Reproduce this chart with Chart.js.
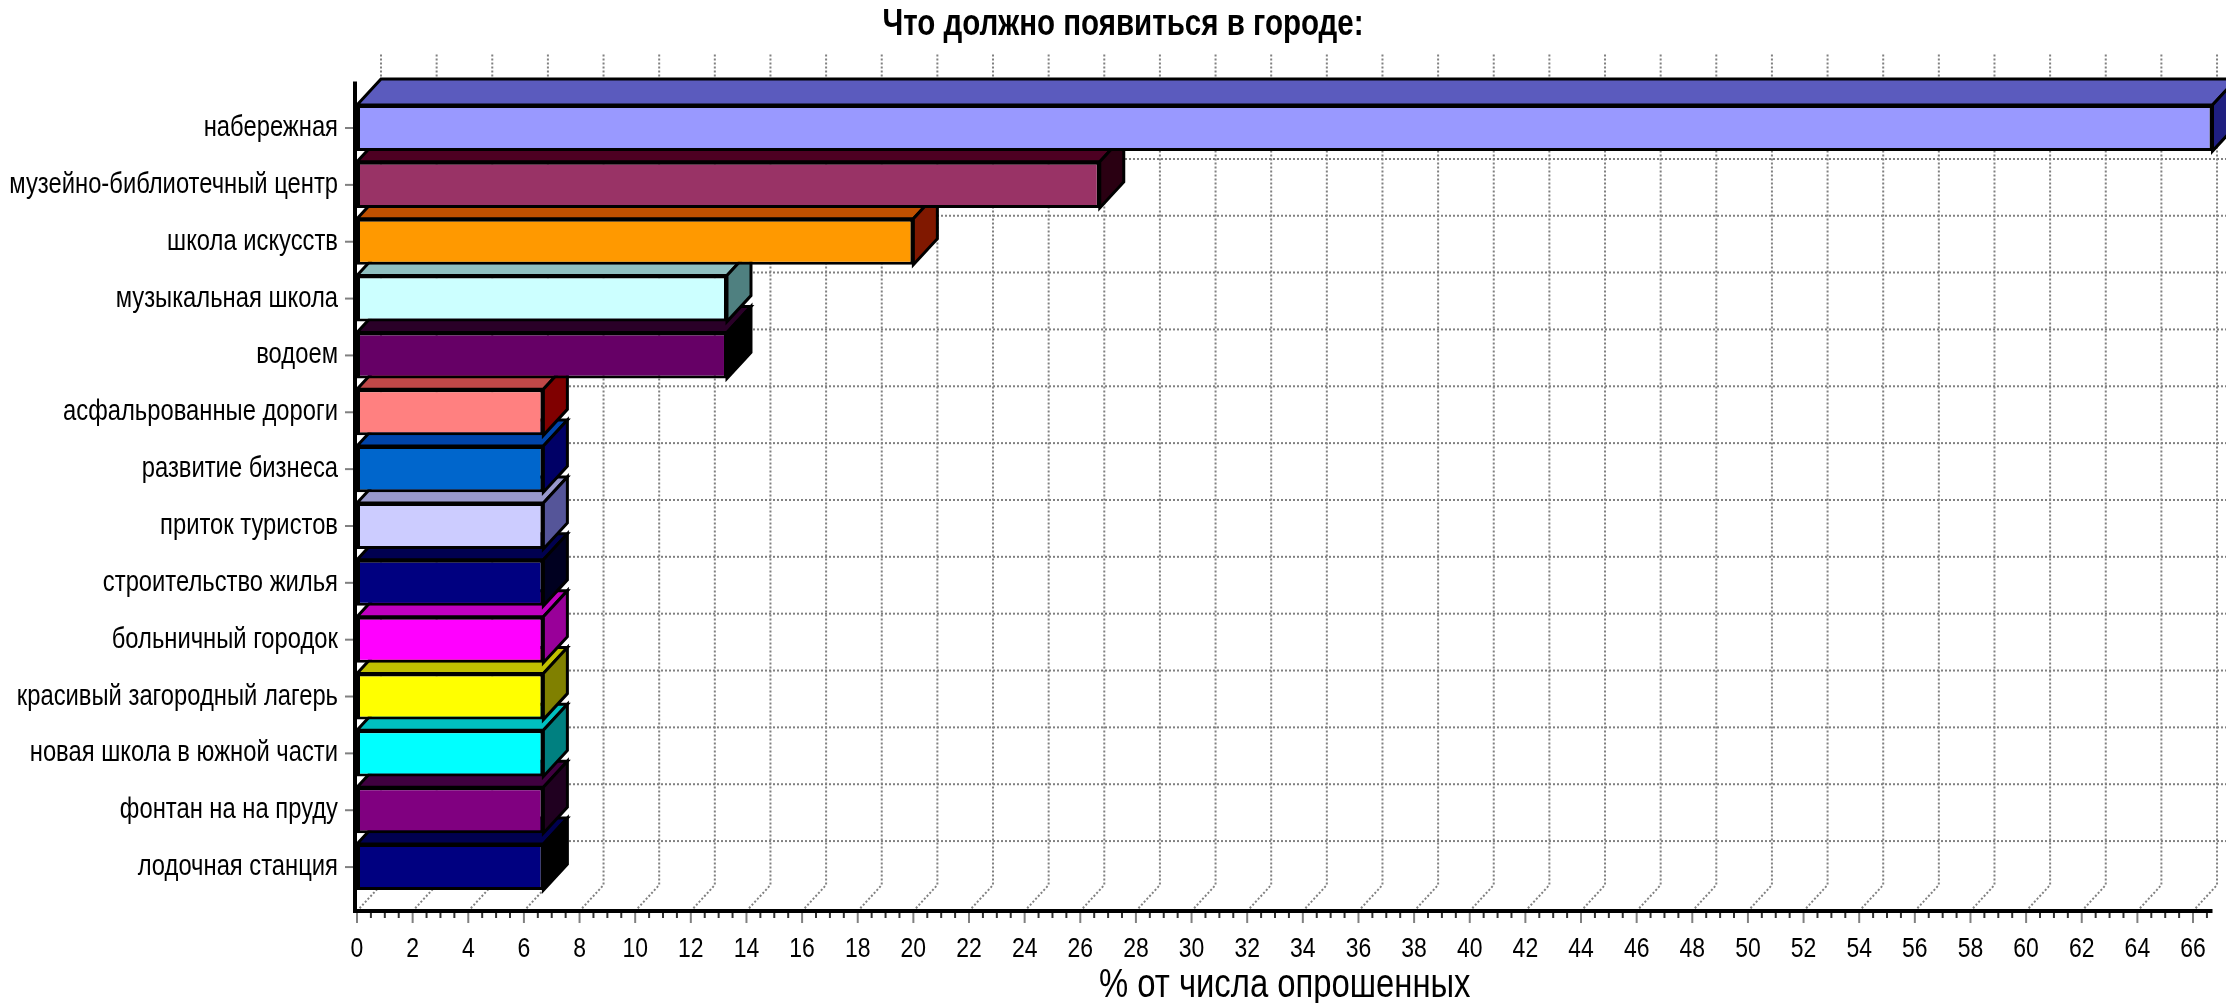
<!DOCTYPE html>
<html lang="ru">
<head>
<meta charset="utf-8">
<title>Что должно появиться в городе</title>
<script src="https://cdn.jsdelivr.net/npm/chart.js@4.4.1/dist/chart.umd.min.js"></script>
<style>
  html, body { margin: 0; padding: 0; background: #fff; }
  #wrap { width: 2226px; height: 1003px; position: relative; }
</style>
</head>
<body>
<div id="wrap"><canvas id="chart"></canvas></div>
<script>
const chartTitle = 'Что должно появиться в городе:';
const axisTitle = '% от числа опрошенных';
const categories = [
  'набережная',
  'музейно-библиотечный центр',
  'школа искусств',
  'музыкальная школа',
  'водоем',
  'асфальрованные дороги',
  'развитие бизнеса',
  'приток туристов',
  'строительство жилья',
  'больничный городок',
  'красивый загородный лагерь',
  'новая школа в южной части',
  'фонтан на на пруду',
  'лодочная станция'
];
const values = [66.7, 26.7, 20, 13.3, 13.3, 6.7, 6.7, 6.7, 6.7, 6.7, 6.7, 6.7, 6.7, 6.7];
const xMax = 66.7;
const xStep = 2;

// front / top / side colours of each bar
const frontColors = ['#9999FF', '#993366', '#FF9900', '#CCFFFF', '#660066', '#FF8080', '#0066CC',
  '#CCCCFF', '#000080', '#FF00FF', '#FFFF00', '#00FFFF', '#800080', '#000080'];
const topColors = ['#5B5BBE', '#4D0022', '#C05000', '#8FC0C0', '#2A0028', '#C04848', '#0044AA',
  '#9999CC', '#000050', '#C000C0', '#C0C000', '#00C0C0', '#400040', '#000050'];
const sideColors = ['#1F1F80', '#2A0012', '#801800', '#4F8080', '#000000', '#800000', '#000066',
  '#555599', '#000020', '#990099', '#808000', '#008080', '#200020', '#000000'];

const FONT = "'Liberation Sans', Arial, sans-serif";
const SQUEEZE = 0.82; // the original uses a narrow font
const DX = 24, DY = 26; // depth offset of the fake 3d

function poly(ctx, pts, fill) {
  ctx.beginPath();
  ctx.moveTo(pts[0][0], pts[0][1]);
  for (let k = 1; k < pts.length; k++) ctx.lineTo(pts[k][0], pts[k][1]);
  ctx.closePath();
  ctx.fillStyle = fill;
  ctx.fill();
  ctx.stroke();
}

function narrowText(ctx, text, x, y, size, bold, align) {
  ctx.save();
  ctx.font = (bold ? 'bold ' : '') + size + 'px ' + FONT;
  ctx.fillStyle = '#000';
  ctx.textAlign = align;
  ctx.textBaseline = 'middle';
  ctx.translate(x, y);
  ctx.scale(SQUEEZE, 1);
  ctx.fillText(text, 0, 0);
  ctx.restore();
}

const bars3d = {
  id: 'bars3d',
  beforeDatasetsDraw(chart) {
    const { ctx, chartArea: area, scales: { x, y } } = chart;
    const floorY = area.bottom + 15.5;
    const wallTop = area.top - 45;
    const x0 = x.getPixelForValue(0);
    const xEnd = x.getPixelForValue(xMax);
    ctx.save();

    // back wall and floor grid
    ctx.strokeStyle = '#808080';
    ctx.lineWidth = 2;
    ctx.setLineDash([2, 2]);
    x.ticks.forEach(t => {
      const px = x.getPixelForValue(t.value);
      ctx.beginPath();
      ctx.moveTo(px + DX, wallTop);
      ctx.lineTo(px + DX, floorY - DY);
      ctx.lineTo(px, floorY);
      ctx.stroke();
    });
    categories.forEach((c, i) => {
      const py = y.getPixelForValue(i) - DY;
      ctx.beginPath();
      ctx.moveTo(x0 + DX, py);
      ctx.lineTo(xEnd + DX + 20, py);
      ctx.stroke();
    });
    ctx.setLineDash([]);

    // tick marks
    ctx.lineWidth = 2;
    for (let v = 0; v <= xMax; v += 0.5) {
      const px = x.getPixelForValue(v);
      const major = v % xStep === 0;
      ctx.strokeStyle = major ? '#808080' : '#333333';
      ctx.beginPath();
      ctx.moveTo(px, floorY);
      ctx.lineTo(px, floorY + (major ? 12 : 7));
      ctx.stroke();
    }
    ctx.strokeStyle = '#808080';
    categories.forEach((c, i) => {
      const py = y.getPixelForValue(i);
      ctx.beginPath();
      ctx.moveTo(x0 - 12, py);
      ctx.lineTo(x0 - 4, py);
      ctx.stroke();
    });

    // axis lines
    ctx.strokeStyle = '#000';
    ctx.lineWidth = 4;
    ctx.beginPath();
    ctx.moveTo(x0 - 2, area.top - 18);
    ctx.lineTo(x0 - 2, floorY);
    ctx.lineTo(xEnd, floorY);
    ctx.stroke();

    // top and side faces, lowest bar first
    ctx.lineWidth = 3;
    ctx.lineJoin = 'miter';
    const meta = chart.getDatasetMeta(0);
    for (let i = meta.data.length - 1; i >= 0; i--) {
      const { x: xr, y: yc, base, height } = meta.data[i].getProps(['x', 'y', 'base', 'height'], true);
      const top = yc - height / 2;
      const bottom = yc + height / 2;
      poly(ctx, [[base, top], [base + DX, top - DY], [xr + DX, top - DY], [xr, top]], topColors[i]);
      poly(ctx, [[xr, top], [xr + DX, top - DY], [xr + DX, bottom - DY], [xr, bottom]], sideColors[i]);
    }
    ctx.restore();
  },
  afterDraw(chart) {
    // labels in a squeezed font, placed from the scales
    const { ctx, chartArea: area, scales: { x, y } } = chart;
    categories.forEach((c, i) => {
      narrowText(ctx, c, area.left - 19, y.getPixelForValue(i), 29, false, 'right');
    });
    x.ticks.forEach(t => {
      narrowText(ctx, String(t.value), x.getPixelForValue(t.value), area.bottom + 54, 28, false, 'center');
    });
    narrowText(ctx, axisTitle, (area.left + area.right) / 2, area.bottom + 90, 40, false, 'center');
    narrowText(ctx, chartTitle, 1123, 25, 36, true, 'center');
  }
};

new Chart(document.getElementById('chart'), {
  type: 'bar',
  data: {
    labels: categories,
    datasets: [{
      data: values,
      backgroundColor: frontColors,
      borderColor: '#000',
      borderWidth: 3,
      borderSkipped: false,
      categoryPercentage: 1,
      barPercentage: 0.81
    }]
  },
  options: {
    responsive: true,
    maintainAspectRatio: false,
    animation: false,
    indexAxis: 'y',
    layout: { padding: { left: 0, right: 13.5, top: 99.6, bottom: 0 } },
    plugins: {
      legend: { display: false },
      tooltip: { enabled: false },
      title: { display: false }
    },
    scales: {
      x: {
        min: 0,
        max: xMax,
        grid: { display: false, drawTicks: false },
        border: { display: false },
        ticks: { display: false, stepSize: xStep, includeBounds: false, autoSkip: false },
        afterBuildTicks: s => { s.ticks = s.ticks.filter(t => t.value % xStep === 0); },
        afterFit: s => { s.height = 107.5; }
      },
      y: {
        grid: { display: false, drawTicks: false },
        border: { display: false },
        ticks: { display: false, autoSkip: false },
        afterFit: s => { s.width = 357; }
      }
    }
  },
  plugins: [bars3d]
});
</script>
</body>
</html>
